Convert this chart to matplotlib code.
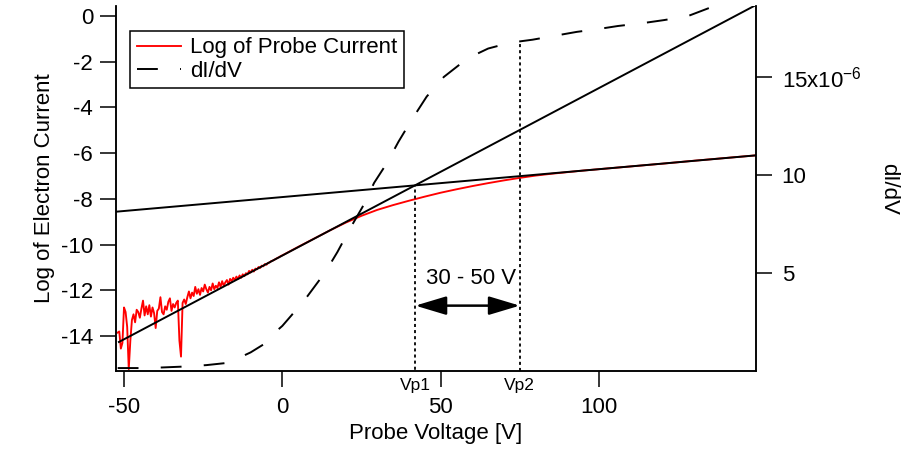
import matplotlib
matplotlib.use('Agg')
import matplotlib.pyplot as plt
import numpy as np

plt.rcParams['font.family'] = ['Liberation Sans', 'DejaVu Sans']
plt.rcParams['axes.unicode_minus'] = False
plt.rcParams['mathtext.default'] = 'regular'
plt.rcParams['lines.scale_dashes'] = False

# log of probe current, noisy part (-52 .. 0 V, 0.5 V steps)
v_noisy = np.arange(-52.0, 0.01, 0.5)
log_noisy = [
    -13.85, -13.80, -14.55, -14.30, -12.75, -12.95, -13.60, -15.45, -14.20, -13.30,
    -13.05, -13.40, -12.85, -12.95, -13.20, -12.80, -12.45, -13.10, -12.70, -13.05,
    -12.65, -13.15, -12.75, -13.00, -13.65, -12.90, -12.80, -12.30, -12.95, -13.05,
    -12.70, -12.85, -12.50, -12.35, -12.90, -12.60, -12.75, -12.55, -12.45, -14.20,
    -14.90, -12.55, -12.40, -12.60, -12.30, -12.05, -12.35, -12.10, -12.25, -11.85,
    -12.15, -11.95, -12.20, -11.90, -12.05, -11.75, -11.95, -12.10, -11.85, -12.00,
    -11.70, -11.95, -11.80, -11.90, -11.65, -11.85, -11.60, -11.80, -11.65, -11.55,
    -11.75, -11.50, -11.60, -11.45, -11.55, -11.40, -11.50, -11.35, -11.45, -11.30,
    -11.38, -11.25, -11.30, -11.15, -11.22, -11.10, -11.18, -11.05, -11.08, -10.98,
    -11.02, -10.92, -10.95, -10.85, -10.88, -10.80, -10.78, -10.72, -10.70, -10.66,
    -10.62, -10.58, -10.55, -10.50, -10.47,
]
# smooth part
v_smooth = [5, 10, 15, 20, 25, 30, 35, 40, 45, 50, 55, 60, 65, 70, 75, 80, 85, 90,
            95, 100, 110, 120, 130, 140, 150]
log_smooth = [-10.10, -9.74, -9.38, -9.04, -8.74, -8.48, -8.27, -8.08, -7.90, -7.73,
              -7.58, -7.44, -7.31, -7.19, -7.08, -6.98, -6.90, -6.83, -6.76, -6.70,
              -6.58, -6.46, -6.33, -6.21, -6.09]

# dI/dV (units of 1e-6)
v_didv = [-52, -45, -38, -32, -24, -17, -10, -6, -3.5, 0, 3, 8, 13.6, 17.4, 21.5, 25.3,
          29, 33, 36.7, 40.8, 45.6, 51, 58.5, 65, 72, 79, 86, 93, 100, 106, 114, 120.5,
          128, 134.5, 142, 150]
didv = [0.15, 0.15, 0.18, 0.22, 0.30, 0.42, 0.95, 1.35, 1.80, 2.30, 2.86, 3.83, 5.05,
        6.07, 7.30, 8.36, 9.60, 10.60, 11.70, 12.80, 14.00, 15.00, 15.95, 16.45, 16.75,
        16.90, 17.10, 17.30, 17.45, 17.60, 17.75, 17.90, 18.10, 18.50, 18.90, 19.20]

# fit lines (end points)
fit1_v = [-51.6, 149.0]
fit1_y = [-14.26, 0.44]
fit2_v = [-52.5, 150.0]
fit2_y = [-8.56, -6.09]

vp1, vp2 = 42, 75
vp1_y = -7.40
vp2_didv = 16.8

fig = plt.figure(figsize=(9.01, 4.54), dpi=100)
ax = fig.add_axes([116 / 901, 83 / 454, 640 / 901, 365 / 454])
ax2 = ax.twinx()

v_red = np.concatenate([v_noisy, v_smooth])
log_red = np.concatenate([log_noisy, log_smooth])

ax.plot(v_red, log_red, color='red', lw=1.35, label='Log of Probe Current')
ax.plot(fit1_v, fit1_y, color='black', lw=1.4)
ax.plot(fit2_v, fit2_y, color='black', lw=1.4)
ax.plot([vp1, vp1], [-16, vp1_y], color='black', lw=1.3, linestyle=(0, (2.2, 2.2)))
dline, = ax2.plot(v_didv, didv, color='black', lw=1.4, dashes=(15, 16), label='dI/dV')
ax2.plot([vp2, vp2], [0, vp2_didv], color='black', lw=1.3, linestyle=(0, (2.2, 2.2)))

ax.annotate('', xy=(vp1, -12.67), xytext=(vp2, -12.67),
            arrowprops=dict(arrowstyle='<|-|>,head_length=1.0,head_width=0.3',
                            mutation_scale=19, color='black', lw=1.8,
                            shrinkA=0, shrinkB=0))
ax.text(59.5, -11.5, '30 - 50 V', fontsize=16, ha='center', va='center')

ax.set_xlim(-52.53, 149.6)
ax.set_ylim(-15.53, 0.44)
ax2.set_ylim(0, 18.62)

ax.set_xticks([-50, 0, 50, 100])
ax.set_yticks([0, -2, -4, -6, -8, -10, -12, -14])
ax2.set_yticks([5, 10, 15])
ax2.set_yticklabels(['5', '10', '15x10$^{-6}$'])

for a in (ax, ax2):
    a.spines['top'].set_visible(False)
    for s in a.spines.values():
        s.set_linewidth(1.1)
    a.tick_params(direction='out', length=11.5, width=1.1, labelsize=16)
ax.tick_params(axis='y', pad=5)
ax.tick_params(axis='x', pad=7)
ax2.tick_params(axis='y', pad=7)

tr = ax.get_xaxis_transform()
ax.text(vp1, -0.02, 'Vp1', transform=tr, fontsize=12.5, ha='center', va='top')
ax.text(vp2, -0.02, 'Vp2', transform=tr, fontsize=12.5, ha='center', va='top')

ax.set_xlabel('Probe Voltage [V]', fontsize=16)
ax.set_ylabel('Log of Electron Current', fontsize=16)
ax2.set_ylabel('dI/dV', fontsize=16, rotation=270, labelpad=27)

red_line = ax.get_lines()[0]
leg = ax.legend([red_line, dline], ['Log of Probe Current', 'dI/dV'],
                loc='upper left', bbox_to_anchor=(0.022, 0.932), borderaxespad=0,
                fontsize=16, fancybox=False, framealpha=1, edgecolor='black',
                handlelength=2.0, handletextpad=0.4, labelspacing=0.1, borderpad=0.3)
leg.get_frame().set_linewidth(1.1)

fig.savefig('out.png', dpi=100)
